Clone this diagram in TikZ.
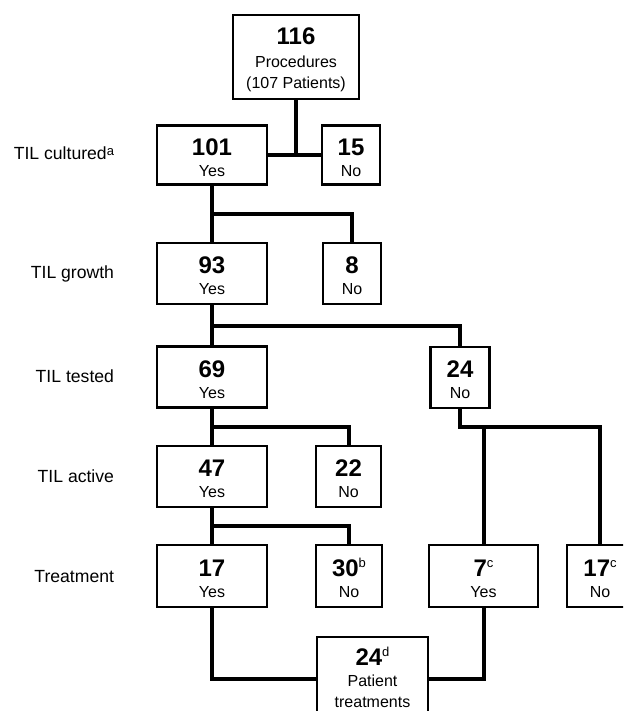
\documentclass[tikz,border=0pt]{standalone}
\usepackage{fontspec}
\setmainfont{Liberation Sans}
\newcommand{\cnt}[1]{{\fontsize{12}{12}\selectfont\bfseries\rule{0pt}{11pt}#1}}
\newcommand{\fn}[1]{\raisebox{0.36em}{\fontsize{6.5}{7}\selectfont\mdseries #1}}

\begin{document}
\begin{tikzpicture}[x=0.5pt, y=-0.5pt, line width=2pt,
	box/.style={draw, line width=1.4pt, align=center, inner sep=0pt, minimum height=30.5pt, font=\fontsize{8}{10.5}\selectfont},
	yesbox/.style={box, minimum width=55pt},
	nobox/.style={box, minimum width=29pt},
	row/.style={anchor=base east, inner sep=0pt, font=\fontsize{8.8}{10}\selectfont}]
	\path[use as bounding box, clip] (0,0) rectangle (623,711);
	% boxes
	\node[box, minimum width=63pt, minimum height=42pt] (top) at (296,57) {\cnt{116}\\[1pt]Procedures\\(107 Patients)};
	\node[yesbox, minimum height=29.5pt] (c101) at (212,155) {\cnt{101}\\Yes};
	\node[nobox, minimum height=29.5pt] (c15) at (351,155) {\cnt{15}\\No};
	\node[yesbox] (g93) at (212,273.5) {\cnt{93}\\Yes};
	\node[nobox] (g8) at (352,273.5) {\cnt{8}\\No};
	\node[yesbox] (t69) at (212,377) {\cnt{69}\\Yes};
	\node[nobox, minimum width=29.5pt] (t24) at (460,377.5) {\cnt{24}\\No};
	\node[yesbox] (a47) at (212,476.5) {\cnt{47}\\Yes};
	\node[nobox, minimum width=32.5pt] (a22) at (348.5,476.5) {\cnt{22}\\No};
	\node[yesbox, minimum height=31pt] (r17) at (212,576) {\cnt{17}\\Yes};
	\node[nobox, minimum width=33pt, minimum height=31pt] (r30) at (349,576) {\cnt{30\fn{b}}\\No};
	\node[yesbox, minimum width=54.5pt, minimum height=31pt] (r7) at (483.5,576) {\cnt{7\fn{c}}\\Yes};
	\node[nobox, minimum width=33pt, minimum height=31pt] (r17c) at (600,576) {\cnt{17\fn{c}}\\No};
	\node[box, minimum width=55.5pt, minimum height=42pt] (p24) at (372.5,679) {\cnt{24\fn{d}}\\Patient\\treatments\rule[-3.5pt]{0pt}{3.5pt}};
	% row labels
	\node[row] (lcult) at (116,160) {TIL cultured\raisebox{0.25em}{\fontsize{6.5}{7}\selectfont a}};
	\node[row] (lgrow) at (116,278) {TIL growth};
	\node[row] (ltest) at (116,382) {TIL tested};
	\node[row] (lact) at (116,482) {TIL active};
	\node[row] (ltreat) at (116,582) {Treatment};
	% branches
	\coordinate (jgrow) at (212,214);
	\coordinate (jtest) at (212,326);
	\coordinate (jact) at (212,427);
	\coordinate (jno) at (460,427);
	\coordinate (jtreat) at (212,526);
	\draw (top.south) -- (top.south |- c101.east);
	\draw (c101.east) -- (c15.west);
	\draw (c101.south) -- (g93.north);
	\draw (jgrow) -| (g8.north);
	\draw (g93.south) -- (t69.north);
	\draw (jtest) -| (t24.north);
	\draw (t69.south) -- (a47.north);
	\draw (jact) -| (a22.north);
	\draw (t24.south) -- (jno) -| (r17c.north);
	\draw (r7.north |- jno) -- (r7.north);
	\draw (a47.south) -- (r17.north);
	\draw (jtreat) -| (r30.north);
	\draw (r17.south) |- (p24.west);
	\draw (r7.south) |- (p24.east);
\end{tikzpicture}
\end{document}
